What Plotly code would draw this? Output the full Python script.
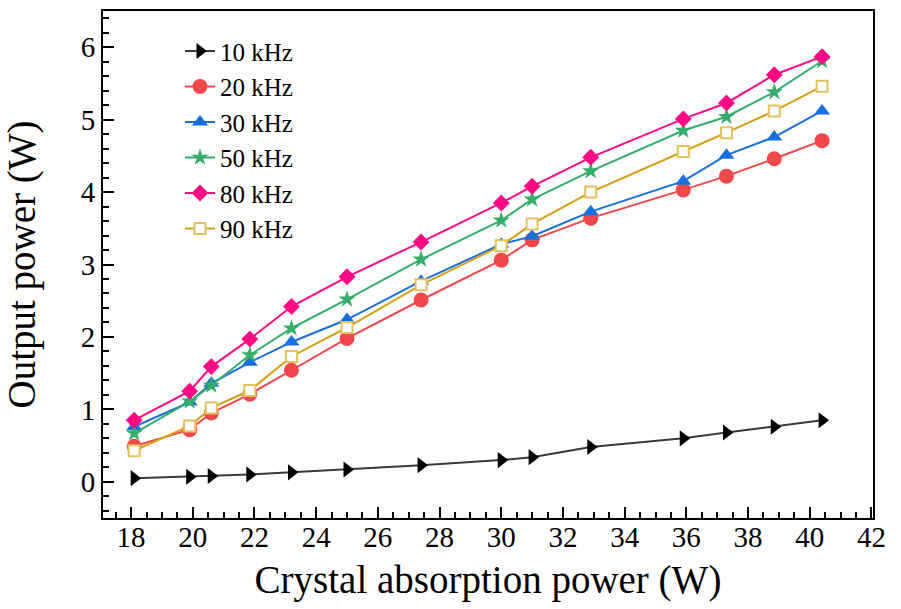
import plotly.graph_objects as go

absorbed_power = [18.1, 19.9, 20.6, 21.85, 23.2, 25.0, 27.4, 30.0, 31.0, 32.9, 35.9, 37.3, 38.85, 40.4]

p_10k = [0.05, 0.07, 0.08, 0.10, 0.13, 0.17, 0.23, 0.30, 0.34, 0.48, 0.60, 0.68, 0.76, 0.85]
p_20k = [0.49, 0.72, 0.95, 1.21, 1.54, 1.98, 2.51, 3.06, 3.34, 3.64, 4.03, 4.22, 4.46, 4.71]
p_30k = [0.76, 1.10, 1.36, 1.65, 1.93, 2.24, 2.77, 3.28, 3.39, 3.73, 4.15, 4.51, 4.76, 5.12]
p_50k = [0.67, 1.11, 1.33, 1.75, 2.12, 2.52, 3.07, 3.61, 3.90, 4.29, 4.85, 5.04, 5.38, 5.81]
p_80k = [0.85, 1.25, 1.59, 1.97, 2.42, 2.83, 3.31, 3.85, 4.08, 4.48, 5.01, 5.23, 5.62, 5.87]
p_90k = [0.43, 0.77, 1.02, 1.26, 1.73, 2.13, 2.72, 3.26, 3.56, 4.00, 4.56, 4.82, 5.12, 5.46]

series_names = ["10 kHz", "20 kHz", "30 kHz", "50 kHz", "80 kHz", "90 kHz"]
series_values = [p_10k, p_20k, p_30k, p_50k, p_80k, p_90k]

x_title = "Crystal absorption power (W)"
y_title = "Output power (W)"

styles = [
    dict(line="#3a3a3a", marker=dict(symbol="triangle-right", size=14, color="#000000")),
    dict(line="#f0474a", marker=dict(symbol="circle", size=15, color="#f0474a")),
    dict(line="#1a6fdf", marker=dict(symbol="triangle-up", size=14, color="#1a6fdf")),
    dict(line="#37ad6b", marker=dict(symbol="star", size=13, color="#37ad6b")),
    dict(line="#ff0a85", marker=dict(symbol="diamond", size=13, color="#ff0a85")),
    dict(line="#d4a017", marker=dict(symbol="square", size=11, color="#ffffff",
                                     line=dict(color="#e3c262", width=2))),
]

FONT = "Liberation Serif"

fig = go.Figure()
for name, vals, st in zip(series_names, series_values, styles):
    fig.add_trace(go.Scatter(
        x=absorbed_power, y=vals, name=name, mode="lines+markers",
        line=dict(color=st["line"], width=2),
        marker=st["marker"],
    ))

axis_common = dict(
    showline=True, linecolor="black", linewidth=2, mirror=True,
    ticks="inside", tickwidth=2, tickcolor="black",
    showgrid=False, zeroline=False,
    tickfont=dict(family=FONT, size=29, color="black"),
)

fig.update_xaxes(
    range=[17.09, 42.05], tick0=18, dtick=2, ticklen=11,
    minor=dict(ticks="inside", dtick=0.5, ticklen=6, tickwidth=2, tickcolor="black"),
    ticklabelstandoff=-8,
    title=dict(text=x_title, font=dict(family=FONT, size=39, color="black"), standoff=14),
    **axis_common,
)
fig.update_yaxes(
    range=[-0.5, 6.5], tick0=0, dtick=1, ticklen=11,
    minor=dict(ticks="inside", dtick=0.2, ticklen=6, tickwidth=2, tickcolor="black"),
    title=dict(text=y_title, font=dict(family=FONT, size=39, color="black"), standoff=33),
    **axis_common,
)

fig.update_layout(
    width=901, height=609,
    margin=dict(l=103, r=28, t=9, b=91, pad=0),
    plot_bgcolor="white", paper_bgcolor="white",
    font=dict(family=FONT, color="black"),
    legend=dict(
        x=0.1, y=0.966, xanchor="left", yanchor="top",
        bgcolor="rgba(0,0,0,0)", borderwidth=0,
        font=dict(family=FONT, size=25, color="black"),
        tracegroupgap=0,
    ),
    showlegend=True,
)

fig.write_html("out.html")
